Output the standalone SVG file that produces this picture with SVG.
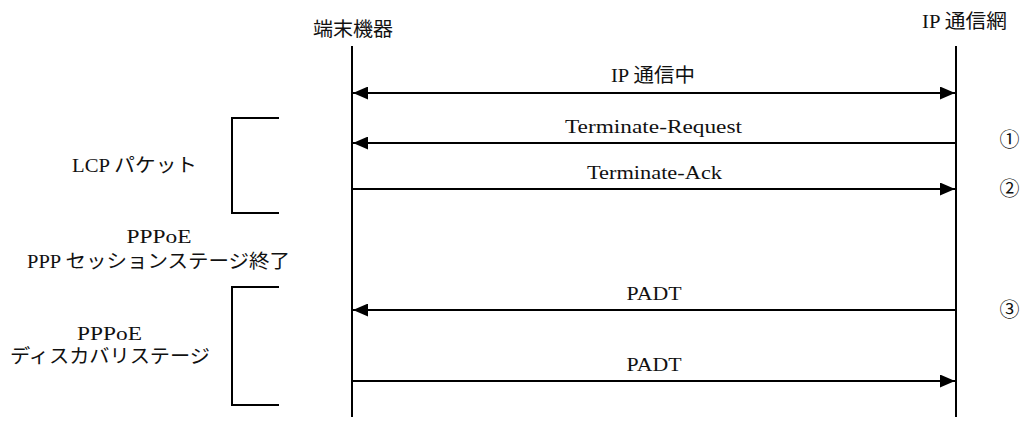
<svg xmlns="http://www.w3.org/2000/svg" width="1022" height="425" viewBox="0 0 1022 425">
<style>
text{font-family:"Liberation Serif","DejaVu Serif","Noto Sans CJK JP",serif;font-size:19px;fill:#111;text-anchor:middle}
.sans{font-family:"Noto Sans CJK JP","Liberation Sans",sans-serif;font-size:19px}
.num{font-family:"Noto Sans CJK JP",sans-serif;font-size:20px}
.ln{stroke:#000;stroke-width:2;fill:none}
</style>
<defs>
<marker id="ah" viewBox="0 0 15 13" refX="15" refY="6.5" markerWidth="15" markerHeight="13" markerUnits="userSpaceOnUse" orient="auto-start-reverse">
<path d="M0,0 L15,6.5 L0,13 Z" fill="#000"/>
</marker>
</defs>
<rect width="1022" height="425" fill="#fff"/>
<g id="terminal">
<text class="sans" x="353" y="36" textLength="80" lengthAdjust="spacingAndGlyphs">端末機器</text>
<line class="ln" x1="352" y1="46" x2="352" y2="417"/>
</g>
<g id="ipnet">
<text x="964.5" y="28" textLength="85" lengthAdjust="spacingAndGlyphs">IP 通信網</text>
<line class="ln" x1="956" y1="46" x2="956" y2="417"/>
</g>
<g id="lcp">
<text x="134.5" y="172" textLength="125" lengthAdjust="spacingAndGlyphs">LCP パケット</text>
<path class="ln" d="M279,118 H232 V213 H279"/>
</g>
<g id="session-end">
<text x="159" y="243" textLength="65" lengthAdjust="spacingAndGlyphs">PPPoE</text>
<text x="158.5" y="268" textLength="263" lengthAdjust="spacingAndGlyphs">PPP セッションステージ終了</text>
</g>
<g id="discovery">
<text x="109.5" y="340" textLength="65" lengthAdjust="spacingAndGlyphs">PPPoE</text>
<text x="110" y="363" textLength="200" lengthAdjust="spacingAndGlyphs">ディスカバリステージ</text>
<path class="ln" d="M279,287 H232 V405 H279"/>
</g>
<g id="numbers">
<text class="num" x="1009.5" y="147">①</text>
<text class="num" x="1009.5" y="196">②</text>
<text class="num" x="1009.5" y="317">③</text>
</g>
<g id="connectors">
<line class="ln" x1="353" y1="93" x2="955" y2="93" marker-start="url(#ah)" marker-end="url(#ah)"/>
<text x="653" y="82" textLength="84" lengthAdjust="spacingAndGlyphs">IP 通信中</text>
<line class="ln" x1="955" y1="143" x2="353" y2="143" marker-end="url(#ah)"/>
<text x="653.5" y="133" textLength="177" lengthAdjust="spacingAndGlyphs">Terminate-Request</text>
<line class="ln" x1="353" y1="189" x2="955" y2="189" marker-end="url(#ah)"/>
<text x="654.5" y="179" textLength="135" lengthAdjust="spacingAndGlyphs">Terminate-Ack</text>
<line class="ln" x1="955" y1="310" x2="353" y2="310" marker-end="url(#ah)"/>
<text x="654" y="300" textLength="55" lengthAdjust="spacingAndGlyphs">PADT</text>
<line class="ln" x1="353" y1="381" x2="955" y2="381" marker-end="url(#ah)"/>
<text x="654" y="371" textLength="55" lengthAdjust="spacingAndGlyphs">PADT</text>
</g>
</svg>
